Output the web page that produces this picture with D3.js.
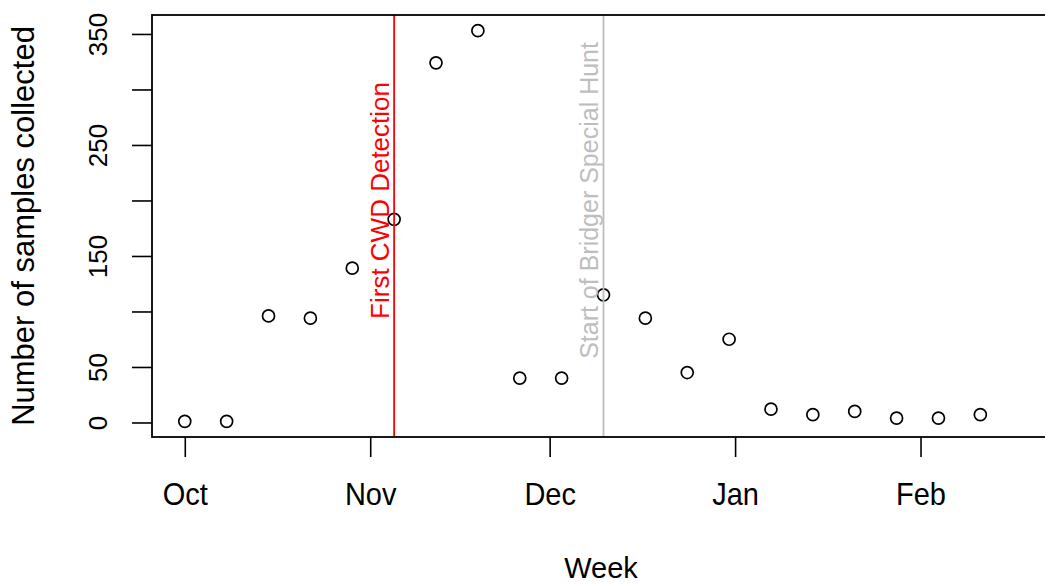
<!DOCTYPE html>
<html><head><meta charset="utf-8">
<script src="https://cdn.jsdelivr.net/npm/d3@7"></script>
<style>
body{margin:0;background:#fff}
svg text{font-family:"Liberation Sans",Arial,sans-serif}
</style>
</head><body>
<svg id="chart" width="1045" height="584"></svg>
<script>
// ---- data ----
const weeks = ["2017-10-01","2017-10-08","2017-10-15","2017-10-22","2017-10-29",
  "2017-11-05","2017-11-12","2017-11-19","2017-11-26","2017-12-03",
  "2017-12-10","2017-12-17","2017-12-24","2017-12-31","2018-01-07",
  "2018-01-14","2018-01-21","2018-01-28","2018-02-04","2018-02-11"];
const samples = [1,1,96,94,139,183,324,353,40,40,115,94,45,75,12,7,10,4,4,7];
const monthTicks = ["2017-10-01","2017-11-01","2017-12-01","2018-01-01","2018-02-01"];
const monthLabels = ["Oct","Nov","Dec","Jan","Feb"];
const yTicks = [0,50,100,150,200,250,300,350];
const yTickLabels = ["0","50","","150","","250","","350"];
const eventDates = ["2017-11-05","2017-12-10"];
const eventLabels = ["First CWD Detection","Start of Bridger Special Hunt"];
const eventLabelY = 200;
const xDomain = ["2017-09-25T12:30:00Z","2018-02-22T15:30:00Z"];
const xTitle = "Week";
const yTitle = "Number of samples collected";

// ---- layout / style ----
const eventColors = ["#FF0000","#BEBEBE"];
const eventFont = [26,25];
const plot = {left:152, right:1050, top:15, bottom:437};
const svg = d3.select("#chart");
const P = s => new Date(s.length === 10 ? s + "T00:00:00Z" : s);

const x = d3.scaleUtc().domain(xDomain.map(P)).range([plot.left, plot.right]);
const yMin = d3.min(samples), yMax = d3.max(samples), pad = 0.04*(yMax - yMin);
const y = d3.scaleLinear().domain([yMin - pad, yMax + pad]).range([plot.bottom, plot.top]);

// x axis
const xAxis = svg.append("g").attr("transform",`translate(0,${plot.bottom})`)
  .call(d3.axisBottom(x).tickValues(monthTicks.map(P)).tickSize(20)
        .tickFormat((d,i)=>monthLabels[i]));
xAxis.select(".domain").remove();
xAxis.selectAll(".tick line").attr("stroke","#000").attr("stroke-width",1.6);
xAxis.selectAll(".tick text").attr("y",null).attr("dy",null)
  .attr("transform","translate(0,68) scale(1,1.08)")
  .attr("font-size",29).attr("fill","#000").style("font-family",'"Liberation Sans",Arial,sans-serif');

// y axis
const yAxis = svg.append("g").attr("transform",`translate(${plot.left},0)`)
  .call(d3.axisLeft(y).tickValues(yTicks).tickSize(20).tickFormat((d,i)=>yTickLabels[i]));
yAxis.select(".domain").remove();
yAxis.selectAll(".tick line").attr("stroke","#000").attr("stroke-width",1.6);
yAxis.selectAll(".tick text")
  .attr("x",null).attr("dy",null).attr("text-anchor","middle")
  .attr("transform","translate(-45,0) rotate(-90)")
  .attr("font-size",26).attr("fill","#000").style("font-family",'"Liberation Sans",Arial,sans-serif');

// points
svg.append("g").selectAll("circle").data(samples).join("circle")
  .attr("cx",(d,i)=>x(P(weeks[i]))).attr("cy",d=>y(d)).attr("r",6)
  .attr("fill","none").attr("stroke","#000").attr("stroke-width",1.7);

// event lines + labels
eventDates.forEach((d,i)=>{
  const ex = x(P(d));
  svg.append("line").attr("x1",ex).attr("x2",ex).attr("y1",plot.top).attr("y2",plot.bottom)
    .attr("stroke",eventColors[i]).attr("stroke-width",1.8);
  svg.append("text").attr("transform",`translate(${ex-5},${y(eventLabelY)}) rotate(-90)`)
    .attr("text-anchor","middle").attr("font-size",eventFont[i]).attr("fill",eventColors[i])
    .text(eventLabels[i]);
});

// box
svg.append("rect").attr("x",plot.left).attr("y",plot.top)
  .attr("width",plot.right-plot.left).attr("height",plot.bottom-plot.top)
  .attr("fill","none").attr("stroke","#000").attr("stroke-width",1.8);

// titles
svg.append("text").attr("x",(plot.left+plot.right)/2).attr("y",578)
  .attr("text-anchor","middle").attr("font-size",29).attr("fill","#000").text(xTitle);
svg.append("text").attr("transform",`translate(34,${(plot.top+plot.bottom)/2}) rotate(-90)`)
  .attr("text-anchor","middle").attr("font-size",31).attr("fill","#000").text(yTitle);
</script>
</body></html>
